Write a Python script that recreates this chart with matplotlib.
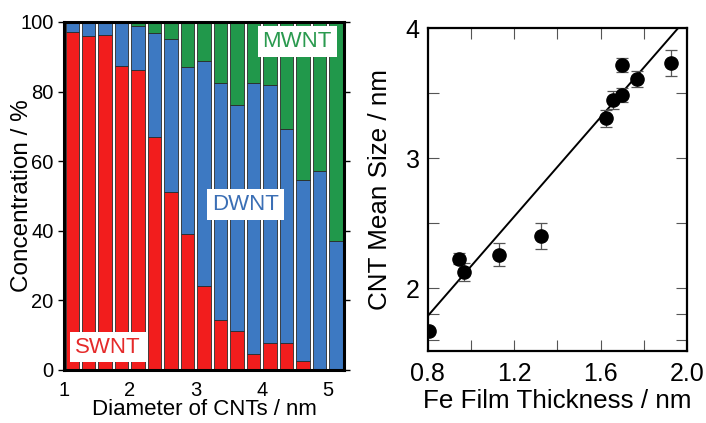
import numpy as np
import matplotlib as mpl
import matplotlib.pyplot as plt

mpl.rcParams['font.family'] = 'Liberation Sans'

# Left panel: type distribution vs. diameter (bins of 0.25 nm)
diameter = [1.125, 1.375, 1.625, 1.875, 2.125, 2.375, 2.625, 2.875, 3.125,
            3.375, 3.625, 3.875, 4.125, 4.375, 4.625, 4.875, 5.125]
swnt = [97.0, 95.9, 96.4, 87.4, 86.3, 67.0, 51.2, 39.2, 24.1,
        14.4, 11.3, 4.5, 7.9, 7.7, 2.7, 0.0, 0.0]
dwnt = [3.0, 4.1, 3.6, 12.6, 12.6, 29.8, 43.9, 48.0, 64.8,
        68.2, 64.8, 77.9, 73.9, 61.5, 51.9, 57.3, 37.2]
mwnt = [0.0, 0.0, 0.0, 0.0, 1.1, 3.2, 4.9, 12.8, 11.1,
        17.4, 23.9, 17.6, 18.2, 30.8, 45.4, 42.7, 62.8]

# Right panel: mean size vs Fe film thickness
fe_thick = [0.806, 0.945, 0.968, 1.129, 1.324, 1.623, 1.659, 1.698, 1.700, 1.770, 1.926]
mean_size = [1.672, 2.228, 2.125, 2.259, 2.402, 3.305, 3.446, 3.715, 3.485, 3.608, 3.733]
size_err = [0.0, 0.04, 0.067, 0.086, 0.10, 0.064, 0.07, 0.054, 0.055, 0.058, 0.10]
fit_slope, fit_icpt = 1.908, 0.261

red, blue, green = '#f21d1d', '#3d79c2', '#21984b'

fig = plt.figure(figsize=(7.06, 4.23), dpi=100)
ax1 = fig.add_axes([0.0907, 0.1253, 0.3966, 0.8227])
ax2 = fig.add_axes([0.606, 0.171, 0.367, 0.7628])

#
#   Stacked bars
#
d = np.array(diameter)
s, dw, mw = np.array(swnt), np.array(dwnt), np.array(mwnt)
kw = dict(width=0.205, edgecolor='#2a2a2a', linewidth=0.6)
ax1.bar(d, s, color=red, **kw)
ax1.bar(d, dw, bottom=s, color=blue, **kw)
ax1.bar(d, mw, bottom=s + dw, color=green, **kw)
ax1.set_xlim(1, 5.25)
ax1.set_ylim(0, 100)
ax1.set_xticks([1, 2, 3, 4, 5])
ax1.set_yticks([0, 20, 40, 60, 80, 100])
ax1.tick_params(axis='y', direction='out', length=4, width=1, labelsize=14.5, right=True)
ax1.tick_params(axis='x', direction='out', length=0, labelsize=14.5, pad=8)
for sp in ax1.spines.values():
    sp.set_linewidth(2.2)
ax1.set_xlabel('Diameter of CNTs / nm', fontsize=16, labelpad=-1)
ax1.set_ylabel('Concentration / %', fontsize=17.5)
ax1.yaxis.set_label_coords(-0.112, 0.5)

box = dict(boxstyle='square,pad=0.22', fc='white', ec='none')
ax1.text(1.67, 6.6, 'SWNT', color='#e52a2a', fontsize=16, ha='center', va='center', bbox=box)
ax1.text(3.75, 47.5, 'DWNT', color='#3b6fb5', fontsize=16, ha='center', va='center', bbox=box)
ax1.text(4.54, 94.3, 'MWNT', color='#2a9a4f', fontsize=16, ha='center', va='center', bbox=box)

#
#   Mean size vs Fe thickness
#
xr = np.array([0.8, 2.0])
ax2.plot(xr, fit_slope*xr + fit_icpt, 'k-', lw=1.4)
ax2.errorbar(fe_thick, mean_size, yerr=size_err, fmt='o', color='black', markersize=9.5,
             ecolor='#555555', elinewidth=0.9, capsize=4, capthick=0.9, zorder=3)
ax2.set_xlim(0.8, 2.0)
ax2.set_ylim(1.52, 4.0)
ax2.set_xticks([0.8, 1.2, 1.6, 2.0])
ax2.set_xticklabels(['0.8', '1.2', '1.6', '2.0'])
ax2.set_xticks([1.0, 1.4, 1.8], minor=True)
ax2.set_yticks([2, 3, 4])
ax2.set_yticks([1.6, 1.8, 2.5, 3.5], minor=True)
ax2.tick_params(which='both', direction='in', length=8, width=0.8, color='#555555',
                top=True, right=True, labelsize=18)
ax2.tick_params(axis='x', which='major', pad=8)
ax2.tick_params(axis='y', which='major', pad=6)
for sp in ax2.spines.values():
    sp.set_linewidth(1.6)
ax2.set_xlabel('Fe Film Thickness / nm', fontsize=18.7, labelpad=2)
ax2.set_ylabel('CNT Mean Size / nm', fontsize=18.7)
ax2.yaxis.set_label_coords(-0.137, 0.5)

plt.savefig('out.png', dpi=100)
